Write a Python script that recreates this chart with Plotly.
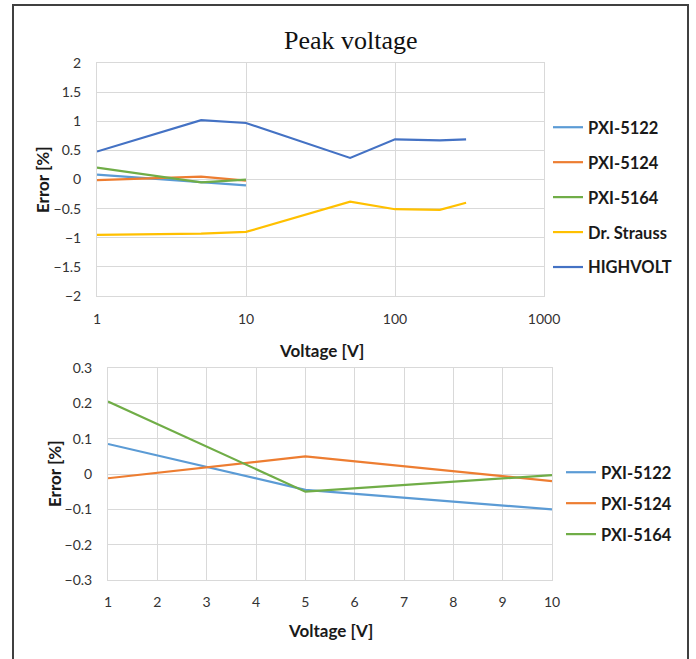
import plotly.graph_objects as go

# ---------------- data ----------------
top_series = ["PXI-5122", "PXI-5124", "PXI-5164", "Dr. Strauss", "HIGHVOLT"]
top_x = {
    "PXI-5122": [1, 5, 10],
    "PXI-5124": [1, 5, 10],
    "PXI-5164": [1, 5, 10],
    "Dr. Strauss": [1, 5, 10, 50, 100, 200, 300],
    "HIGHVOLT": [1, 5, 10, 50, 100, 200, 300],
}
top_y = {
    "PXI-5122": [0.085, -0.045, -0.10],
    "PXI-5124": [-0.012, 0.05, -0.02],
    "PXI-5164": [0.205, -0.05, -0.003],
    "Dr. Strauss": [-0.95, -0.93, -0.90, -0.38, -0.51, -0.52, -0.40],
    "HIGHVOLT": [0.48, 1.02, 0.97, 0.37, 0.69, 0.67, 0.69],
}
bottom_series = ["PXI-5122", "PXI-5124", "PXI-5164"]
bottom_x = [1, 5, 10]
bottom_y = {
    "PXI-5122": [0.085, -0.045, -0.10],
    "PXI-5124": [-0.012, 0.05, -0.02],
    "PXI-5164": [0.205, -0.05, -0.003],
}
top_xticks = [1, 10, 100, 1000]
top_xticktext = ["1", "10", "100", "1000"]
top_yticks = [2, 1.5, 1, 0.5, 0, -0.5, -1, -1.5, -2]
bottom_xticks = [1, 2, 3, 4, 5, 6, 7, 8, 9, 10]
bottom_yticks = [0.3, 0.2, 0.1, 0, -0.1, -0.2, -0.3]

colors = {
    "PXI-5122": "#5b9bd5",
    "PXI-5124": "#ed7d31",
    "PXI-5164": "#70ad47",
    "Dr. Strauss": "#ffc000",
    "HIGHVOLT": "#4472c4",
}

W, H = 696, 659
FONT = "Lato, Open Sans, sans-serif"
GRID = "#d9d9d9"
TXT = "#1a1a1a"


def px_x(p):
    return p / W


def px_y(p):
    return 1 - p / H


fig = go.Figure()

for s in top_series:
    fig.add_trace(go.Scatter(
        x=top_x[s], y=top_y[s], mode="lines", name=s,
        line=dict(color=colors[s], width=2.2),
        xaxis="x", yaxis="y", legend="legend", legendgroup="t" + s,
    ))
for s in bottom_series:
    fig.add_trace(go.Scatter(
        x=bottom_x, y=bottom_y[s], mode="lines", name=s,
        line=dict(color=colors[s], width=2.2),
        xaxis="x2", yaxis="y2", legend="legend2", legendgroup="b" + s,
    ))

axis_common = dict(
    showgrid=True, gridcolor=GRID, gridwidth=1,
    showline=True, linecolor=GRID, linewidth=1, mirror=True,
    zeroline=False, ticks="", automargin=False,
    tickfont=dict(family=FONT, size=14, color="#333333"),
)

fig.update_layout(
    width=W, height=H,
    margin=dict(l=0, r=0, t=0, b=0, pad=0, autoexpand=False),
    paper_bgcolor="white", plot_bgcolor="white",
    showlegend=True,
    xaxis=dict(
        type="log", range=[0, 3], domain=[px_x(97), px_x(544)],
        tickvals=top_xticks, ticktext=top_xticktext, anchor="y",
        ticklabelstandoff=10, **axis_common,
    ),
    yaxis=dict(
        range=[-2, 2], domain=[px_y(296), px_y(63)],
        tickvals=top_yticks, anchor="x", ticklabelstandoff=12, **axis_common,
    ),
    xaxis2=dict(
        range=[1, 10], domain=[px_x(108), px_x(552)],
        tickvals=bottom_xticks, anchor="y2", ticklabelstandoff=9, **axis_common,
    ),
    yaxis2=dict(
        range=[-0.3, 0.3], domain=[px_y(580), px_y(368)],
        tickvals=bottom_yticks, anchor="x2", ticklabelstandoff=12, **axis_common,
    ),
    legend=dict(
        x=px_x(548), y=px_y(110), xanchor="left", yanchor="top",
        font=dict(family=FONT, size=16.5, color=TXT, weight="bold"),
        tracegroupgap=10.5, itemwidth=30, bgcolor="rgba(0,0,0,0)",
    ),
    legend2=dict(
        x=px_x(561), y=px_y(455), xanchor="left", yanchor="top",
        font=dict(family=FONT, size=16.5, color=TXT, weight="bold"),
        tracegroupgap=6.5, itemwidth=30, bgcolor="rgba(0,0,0,0)",
    ),
    annotations=[
        dict(text="Peak voltage", x=px_x(351), y=px_y(40), xref="paper", yref="paper",
             xanchor="center", yanchor="middle", showarrow=False,
             font=dict(family="Liberation Serif, serif", size=26, color="#111111")),
        dict(text="<b>Error [%]</b>", x=px_x(43), y=px_y(180), xref="paper", yref="paper",
             xanchor="center", yanchor="middle", showarrow=False, textangle=-90,
             font=dict(family=FONT, size=17, color=TXT)),
        dict(text="<b>Voltage [V]</b>", x=px_x(321), y=px_y(350), xref="paper", yref="paper",
             xanchor="center", yanchor="middle", showarrow=False,
             font=dict(family=FONT, size=17, color=TXT)),
        dict(text="<b>Error [%]</b>", x=px_x(54), y=px_y(474), xref="paper", yref="paper",
             xanchor="center", yanchor="middle", showarrow=False, textangle=-90,
             font=dict(family=FONT, size=17, color=TXT)),
        dict(text="<b>Voltage [V]</b>", x=px_x(330), y=px_y(630), xref="paper", yref="paper",
             xanchor="center", yanchor="middle", showarrow=False,
             font=dict(family=FONT, size=17, color=TXT)),
    ],
    shapes=[
        dict(type="rect", xref="paper", yref="paper",
             x0=px_x(13), x1=px_x(688), y0=-0.05, y1=px_y(5),
             line=dict(color="#404040", width=2), fillcolor="rgba(0,0,0,0)"),
    ],
)

fig.write_html(
    "out.html",
    config={"displayModeBar": False},
    post_script="document.body.style.margin='0';document.body.style.overflow='hidden';",
)
